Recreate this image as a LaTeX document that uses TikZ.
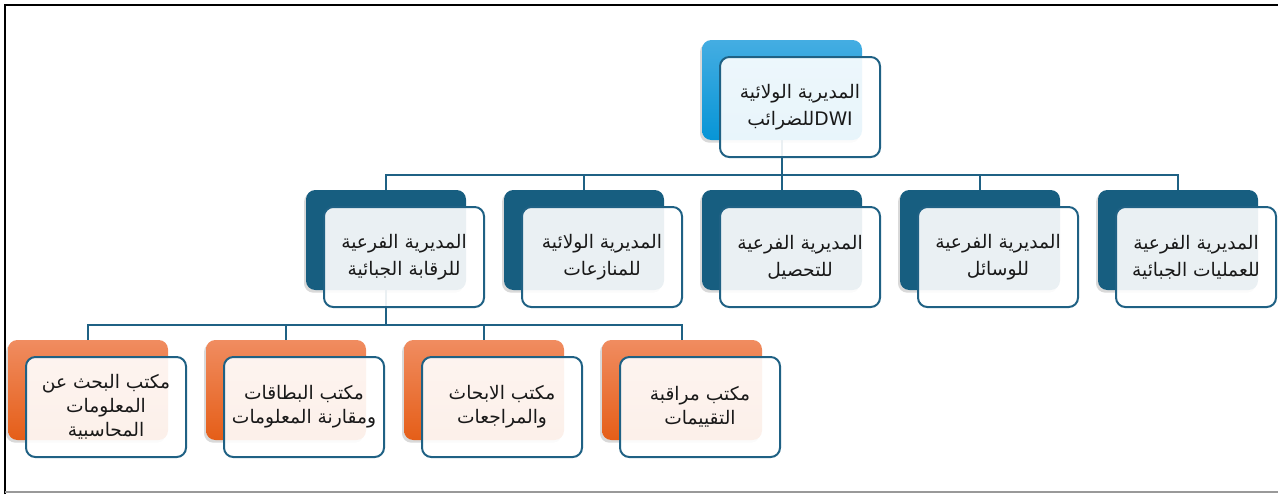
\documentclass[tikz,border=0pt]{standalone}
\usepackage{fontspec}
\newfontfamily\arabicfont[Script=Arabic]{DejaVu Sans}
\TeXXeTstate=1
\usepackage{tikz}
\usetikzlibrary{positioning,shadows,backgrounds,calc}
\definecolor{deepteal}{HTML}{175E80}
\definecolor{edgeteal}{HTML}{1F6184}
\definecolor{skytop}{HTML}{44ADE2}
\definecolor{skybottom}{HTML}{0795D6}
\definecolor{orangetop}{HTML}{F08C60}
\definecolor{orangebottom}{HTML}{E55E18}
\newcommand{\artext}[1]{\beginR #1\endR}
\tikzset{
    backbox/.style={rounded corners=7pt, minimum width=120pt, minimum height=75pt, inner sep=0pt,
        general shadow={shadow xshift=-1.5pt, shadow yshift=-2pt, fill=black, opacity=0.15}},
    frontbox/.style={draw=edgeteal, line width=1.5pt, rounded corners=7pt, fill=white, fill opacity=0.91,
        text opacity=1, text=black!90, minimum width=120pt, minimum height=75pt, inner sep=2pt, align=center,
        font=\arabicfont\fontsize{14}{20}\selectfont},
    officebox/.style={frontbox, font=\arabicfont\fontsize{14}{18}\selectfont},
    link/.style={edgeteal, line width=1.5pt}
}
\begin{document}
\begin{tikzpicture}[x=0.75pt, y=-0.75pt]
    \useasboundingbox (0,0) rectangle (1278,494);

    % Frame
    \draw[black, line width=1.3pt] (5,494) -- (5,5) -- (1278,5);
    \draw[black!40, line width=1.3pt] (5,492) -- (1278,492);

    % Top directorate
    \node[backbox, top color=skytop, bottom color=skybottom] (topb) at (782,90) {};
    \node[frontbox] (topf) at ($(topb)+(18,17)$)
        {\artext{المديرية الولائية}\\\artext{\beginL DWI\endL للضرائب}};

    % Sub-directorates
    \foreach \i/\x/\txt in {
        1/386/{\artext{المديرية الفرعية}\\\artext{للرقابة الجبائية}},
        2/584/{\artext{المديرية الولائية}\\\artext{للمنازعات}},
        3/782/{\artext{المديرية الفرعية}\\\artext{للتحصيل}},
        4/980/{\artext{المديرية الفرعية}\\\artext{للوسائل}},
        5/1178/{\artext{المديرية الفرعية}\\\artext{للعمليات الجبائية}}} {
        \node[backbox, fill=deepteal] (dir\i) at (\x,240) {};
        \node[frontbox] (dirf\i) at ($(dir\i)+(18,17)$) {\txt};
    }

    % Offices
    \foreach \i/\x/\txt in {
        1/88/{\artext{مكتب البحث عن}\\\artext{المعلومات}\\\artext{المحاسبية}},
        2/286/{\artext{مكتب البطاقات}\\\artext{ومقارنة المعلومات}},
        3/484/{\artext{مكتب الابحاث}\\\artext{والمراجعات}},
        4/682/{\artext{مكتب مراقبة}\\\artext{التقييمات}}} {
        \node[backbox, top color=orangetop, bottom color=orangebottom] (off\i) at (\x,390) {};
        \node[officebox] (offf\i) at ($(off\i)+(18,17)$) {\txt};
    }

    % Connectors
    \begin{scope}[on background layer]
        \foreach \i in {1,...,5}
            \draw[link] (topb.south) -- ++(0,35) -| (dir\i.north);
        \foreach \i in {1,...,4}
            \draw[link] (dir1.south) -- ++(0,35) -| (off\i.north);
    \end{scope}
\end{tikzpicture}
\end{document}
